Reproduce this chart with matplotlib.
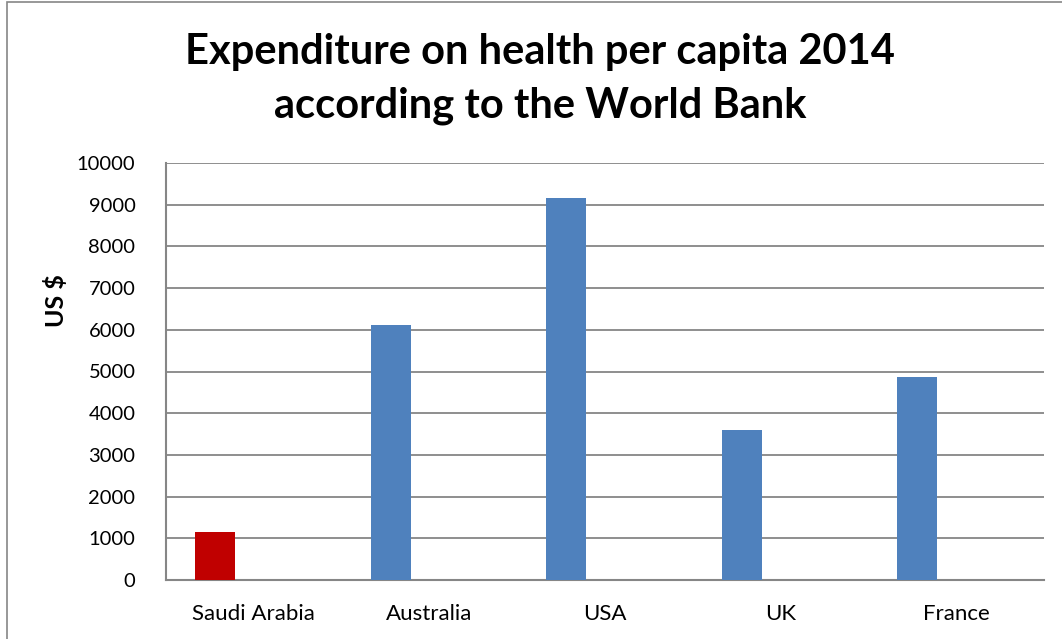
import matplotlib
matplotlib.use("Agg")
import matplotlib.pyplot as plt
from matplotlib.patches import Rectangle

categories = ["Saudi Arabia", "Australia", "USA", "UK", "France"]
values = [1150, 6110, 9150, 3600, 4880]
bar_colors = ["#C00000", "#4F81BD", "#4F81BD", "#4F81BD", "#4F81BD"]
yticks = [0, 1000, 2000, 3000, 4000, 5000, 6000, 7000, 8000, 9000, 10000]
title = "Expenditure on health per capita 2014\naccording to the World Bank"
ylabel = "US $"

plt.rcParams['font.family'] = ['Lato', 'DejaVu Sans']

W, H = 1062, 639
fig = plt.figure(figsize=(W / 100, H / 100), dpi=100)
fig.patch.set_facecolor("white")

# outer chart border
fig.patches.append(Rectangle((7 / W, -0.01), 1.1, (639 - 2) / H + 0.01, transform=fig.transFigure,
                             fill=False, edgecolor="#868686", linewidth=1.2))

ax = fig.add_axes([166 / W, (H - 580) / H, (1044 - 166) / W, (580 - 163) / H])
x = list(range(len(categories)))
offset = -0.2207
width = 0.228
ax.bar([xi + offset for xi in x], values, width=width, color=bar_colors, zorder=3)

ax.set_xlim(-0.5, len(categories) - 0.5)
ax.set_ylim(0, 10000)
ax.set_yticks(yticks)
ax.set_yticklabels([str(v) for v in yticks], fontsize=14.5)
ax.set_xticks(x)
ax.set_xticklabels(categories, fontsize=16)
ax.tick_params(axis='x', length=0, pad=17)
ax.tick_params(axis='y', length=0, pad=22)
ax.grid(axis='y', color="#868686", linewidth=1.3, zorder=0)
for s in ["top", "right"]:
    ax.spines[s].set_visible(False)
for s in ["left", "bottom"]:
    ax.spines[s].set_color("#868686")
    ax.spines[s].set_linewidth(1.5)

ax.set_ylabel(ylabel, fontsize=18, fontweight="bold", va="center")
ax.yaxis.set_label_coords((56 - 166) / 878, (580 - 301) / 417)

fig.text(540 / W, 1 - 79 / H, title, ha="center", va="center", fontsize=30,
         fontweight="bold", linespacing=1.5)

fig.savefig("out.png", dpi=100)
